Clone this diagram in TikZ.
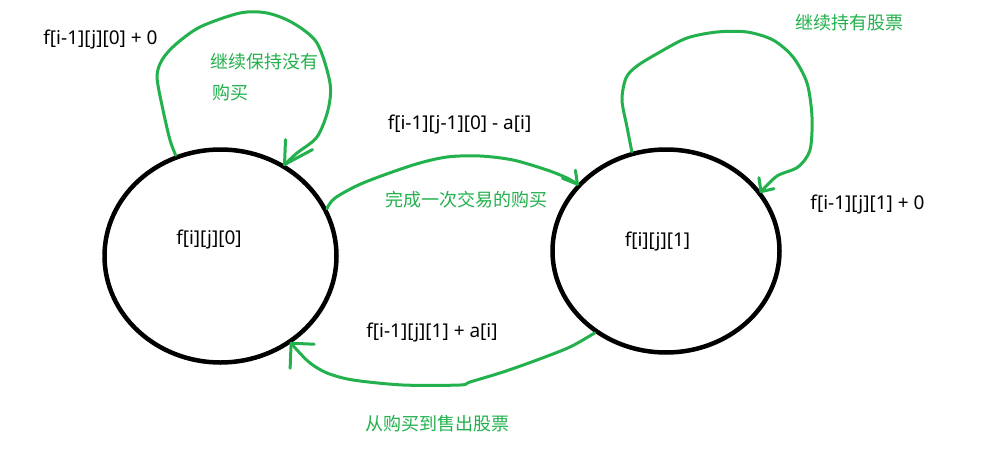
\documentclass[tikz,border=0pt]{standalone}
\usepackage{fontspec}
\setmainfont{Noto Sans}
\newfontfamily\cjk{Noto Sans CJK SC}
\usetikzlibrary{shapes.geometric}
\definecolor{pgreen}{RGB}{34,177,76}
\begin{document}
\begin{tikzpicture}[x=1pt,y=-1pt,
  state/.style={draw, line width=4.5pt, ellipse, inner sep=0pt},
  lbl/.style={inner sep=0pt, font=\fontsize{19}{21}\selectfont},
  clbl/.style={inner sep=0pt, text=pgreen, font=\cjk\fontsize{18}{20}\selectfont},
  edge/.style={draw=pgreen, line width=3pt, line cap=round, line join=round}]
\useasboundingbox[fill=white] (0,0) rectangle (1004,471);
% states
\node[state, minimum width=232pt, minimum height=213pt] (L) at (220.5,256) {};
\node[state, minimum width=227pt, minimum height=203pt] (R) at (666,251) {};
\node[lbl] (Lt) at (209,240) {f[i][j][0]};
\node[lbl] (Rt) at (657.5,241.5) {f[i][j][1]};
% labels
\node[lbl] (l1) at (100.5,39.5) {f[i-1][j][0] + 0};
\node[clbl] (c1) at (264.5,62) {继续保持没有};
\node[clbl, anchor=west] (c1b) at (212,93) {购买};
\node[lbl] (l2) at (459.5,125) {f[i-1][j-1][0] - a[i]};
\node[clbl] (c2) at (466,200) {完成一次交易的购买};
\node[lbl] (l3) at (432,332.5) {f[i-1][j][1] + a[i]};
\node[clbl] (c3) at (437.5,423.5) {从购买到售出股票};
\node[clbl] (c4) at (849,22.5) {继续持有股票};
\node[lbl] (l4) at (867.5,204.5) {f[i-1][j][1] + 0};
% left self loop
\draw[edge] plot[smooth] coordinates {(L.114.5) (170,140) (163,110) (157,77) (162,60) (175,45) (200,27) (240,13) (267,13) (293,23) (317,43) (330,83) (328,110) (317,137) (297,153) (L.55.4)};
\draw[edge] (L.55.4) -- ++(1,-25) (L.55.4) -- ++(28,-15);
% right self loop
\draw[edge] plot[smooth] coordinates {(R.109) (627,127) (622,100) (626,78) (637,66) (660,52) (687,38) (717,32) (747,32) (773,40) (793,57) (807,83) (812,117) (810,150) (798,167) (777,176) (R.32.8)};
\draw[edge] (R.32.8) -- ++(-2,-14) (R.32.8) -- ++(13,-3);
% buy
\draw[edge] plot[smooth] coordinates {(L.24.3) (335,198) (363,183) (413,165) (447,157) (480,156) (513,160) (547,170) (567,178) (R.143.9)};
\draw[edge] (R.143.9) -- ++(-2,-14) (R.143.9) -- ++(-15,-6);
% sell
\draw[edge] plot[smooth] coordinates {(R.-131.5) (570,347) (537,360) (503,372) (470,382) (460,385) (403,385) (353,380) (327,373) (310,363) (297,350) (L.-51.2)};
\draw[edge] (L.-51.2) -- ++(23,1) (L.-51.2) -- ++(-1,25);
\end{tikzpicture}
\end{document}
